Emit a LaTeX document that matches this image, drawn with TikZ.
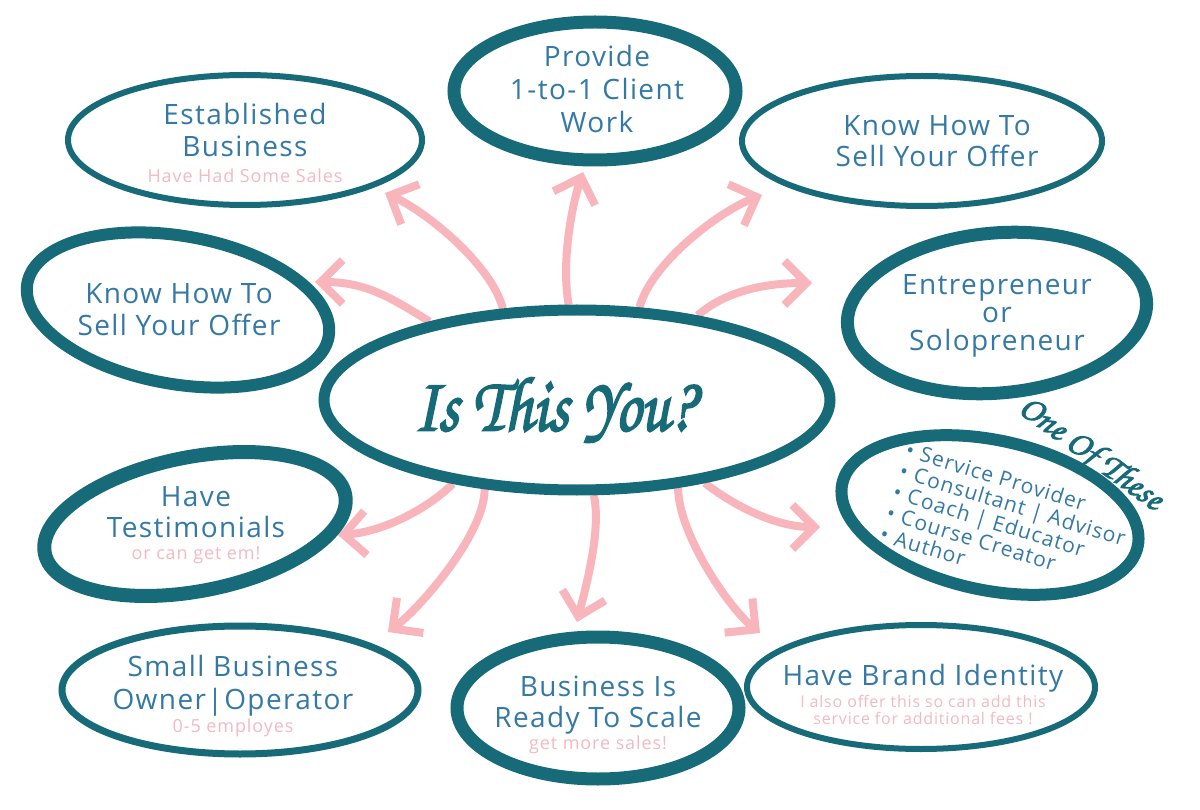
\documentclass[tikz,border=0pt]{standalone}
\usepackage{fontspec}
\setmainfont{Open Sans}[LetterSpace=5]
\newfontfamily\chorus{TeX Gyre Chorus}[FakeBold=2.5]
\usetikzlibrary{arrows.meta,shapes.geometric,backgrounds}

\definecolor{ringteal}{HTML}{176A78}
\definecolor{textblue}{HTML}{3479A6}
\definecolor{arrowpink}{HTML}{F8B6BC}
\definecolor{subpink}{HTML}{F1BAC3}

\newcommand\subnote[1]{{\fontsize{18}{20}\selectfont\color{subpink}#1}}

\tikzset{
  ring/.style={draw=ringteal, shape=ellipse, inner sep=0pt, line width=#1},
  ring/.default=12pt,
  lbl/.style={text=textblue, align=center, font=\fontsize{28}{32}\selectfont},
  arr/.style={draw=arrowpink, line width=8pt, -{Straight Barb[length=22pt,width=44pt]}},
}

\begin{document}
\begin{tikzpicture}[x=1pt,y=-1pt]
    \useasboundingbox (0,0) rectangle (1200,810);
    % The centre oval
    \node[ring=11pt, minimum width=506pt, minimum height=180pt] (hub) at (577,400) {};
    \node[text=ringteal, font=\chorus\fontsize{78}{78}\selectfont, xscale=0.82] (hubtxt) at (554,410) {Is This You?};
    % The ovals round it
    \node[ring=6pt, minimum width=354pt, minimum height=130pt] (est) at (245,140) {};
    \node[ring=12pt, minimum width=306pt, minimum height=148pt, rotate=-10] (knowL) at (178,310) {};
    \node[ring=13pt, minimum width=282pt, minimum height=138pt] (prov) at (595,91) {};
    \node[ring=6pt, minimum width=360pt, minimum height=130pt] (knowR) at (922,141) {};
    \node[ring=13pt, minimum width=300pt, minimum height=160pt, rotate=5] (entre) at (997,313) {};
    \node[ring=12pt, minimum width=302pt, minimum height=150pt, rotate=-12] (oneof) at (990,515) {};
    \node[ring=14pt, minimum width=306pt, minimum height=134pt, rotate=11] (testi) at (195,524) {};
    \node[ring=7pt, minimum width=356pt, minimum height=128pt] (small) at (240,690) {};
    \node[ring=13pt, minimum width=282pt, minimum height=142pt] (ready) at (598,708) {};
    \node[ring=6pt, minimum width=348pt, minimum height=124pt] (brand) at (921,687) {};
    % Their texts
    \node[lbl] (esttxt) at (245,143) {Established\\Business\\[-6pt]\subnote{Have Had Some Sales}};
    \node[lbl] (knowLtxt) at (179,310) {Know How To\\Sell Your Offer};
    \node[lbl] (provtxt) at (597,89) {Provide\\[1pt]1-to-1 Client\\[1pt]Work};
    \node[lbl] (knowRtxt) at (937,141) {Know How To\\[-1pt]Sell Your Offer};
    \node[lbl] (entretxt) at (997,316) {Entrepreneur\\[-4pt]or\\[-4pt]Solopreneur};
    \node[lbl] (testitxt) at (196,525) {Have\\[-1pt]Testimonials\\[-10pt]\subnote{or can get em!}};
    \node[lbl] (smalltxt) at (233,696) {Small Business\\[1pt]Owner|Operator\\[-9pt]\subnote{0-5 employes}};
    \node[lbl] (readytxt) at (598,715) {Business Is\\[-1pt]Ready To Scale\\[-10pt]\subnote{get more sales!}};
    \node[lbl] (brandtxt) at (923,694) {Have Brand Identity\\[-10pt]{\fontsize{16}{17}\selectfont\color{subpink}I also offer this so can add this}\\[-15pt]{\fontsize{16}{17}\selectfont\color{subpink}service for additional fees !}};
    \node[text=textblue, align=left, font=\fontsize{21}{22}\selectfont, rotate=-17, anchor=north west, inner sep=0pt] (oneoflist) at (909,441)
        {\textbullet\hspace{7pt}Service Provider\\
         \textbullet\hspace{7pt}Consultant | Advisor\\
         \textbullet\hspace{7pt}Coach | Educator\\
         \textbullet\hspace{7pt}Course Creator\\
         \textbullet\hspace{7pt}Author};
    \node[text=ringteal, font=\chorus\fontsize{36}{36}\selectfont, rotate=-36, inner sep=0pt] (oneoftitle) at (1090,455) {One Of These};
    % Arrow tips
    \coordinate (tipKnowL) at (315,282);
    \coordinate (tipEst) at (385,193);
    \coordinate (tipProv) at (583,172);
    \coordinate (tipKnowR) at (762,195);
    \coordinate (tipEntre) at (812,283);
    \coordinate (tipTesti) at (338,535);
    \coordinate (tipSmall) at (388,632);
    \coordinate (tipReady) at (577,622);
    \coordinate (tipBrand) at (760,633);
    \coordinate (tipOneof) at (820,527);
    % The arrows, under the ovals
    \begin{scope}[on background layer]
    \fill[white] (0,0) rectangle (1200,810);
    \draw[arr] (hub.152) .. controls +(-40,-25) and +(50,0) .. (tipKnowL);
    \draw[arr] (hub.129) .. controls +(-12,-45) and +(40,18) .. (tipEst);
    \draw[arr] (hub.95) .. controls +(-8,-45) and +(-10,30) .. (tipProv);
    \draw[arr] (hub.56) .. controls +(12,-45) and +(-42,16) .. (tipKnowR);
    \draw[arr] (hub.35) .. controls +(28,-25) and +(-45,0) .. (tipEntre);
    \draw[arr] (hub.214) .. controls +(-25,25) and +(45,-3) .. (tipTesti);
    \draw[arr] (hub.224) .. controls +(0,45) and +(32,-24) .. (tipSmall);
    \draw[arr] (hub.-80) .. controls +(8,35) and +(8,-32) .. (tipReady);
    \draw[arr] (hub.-41) .. controls +(0,45) and +(-32,-26) .. (tipBrand);
    \draw[arr] (hub.-33) .. controls +(28,22) and +(-45,0) .. (tipOneof);
    \end{scope}
\end{tikzpicture}
\end{document}
